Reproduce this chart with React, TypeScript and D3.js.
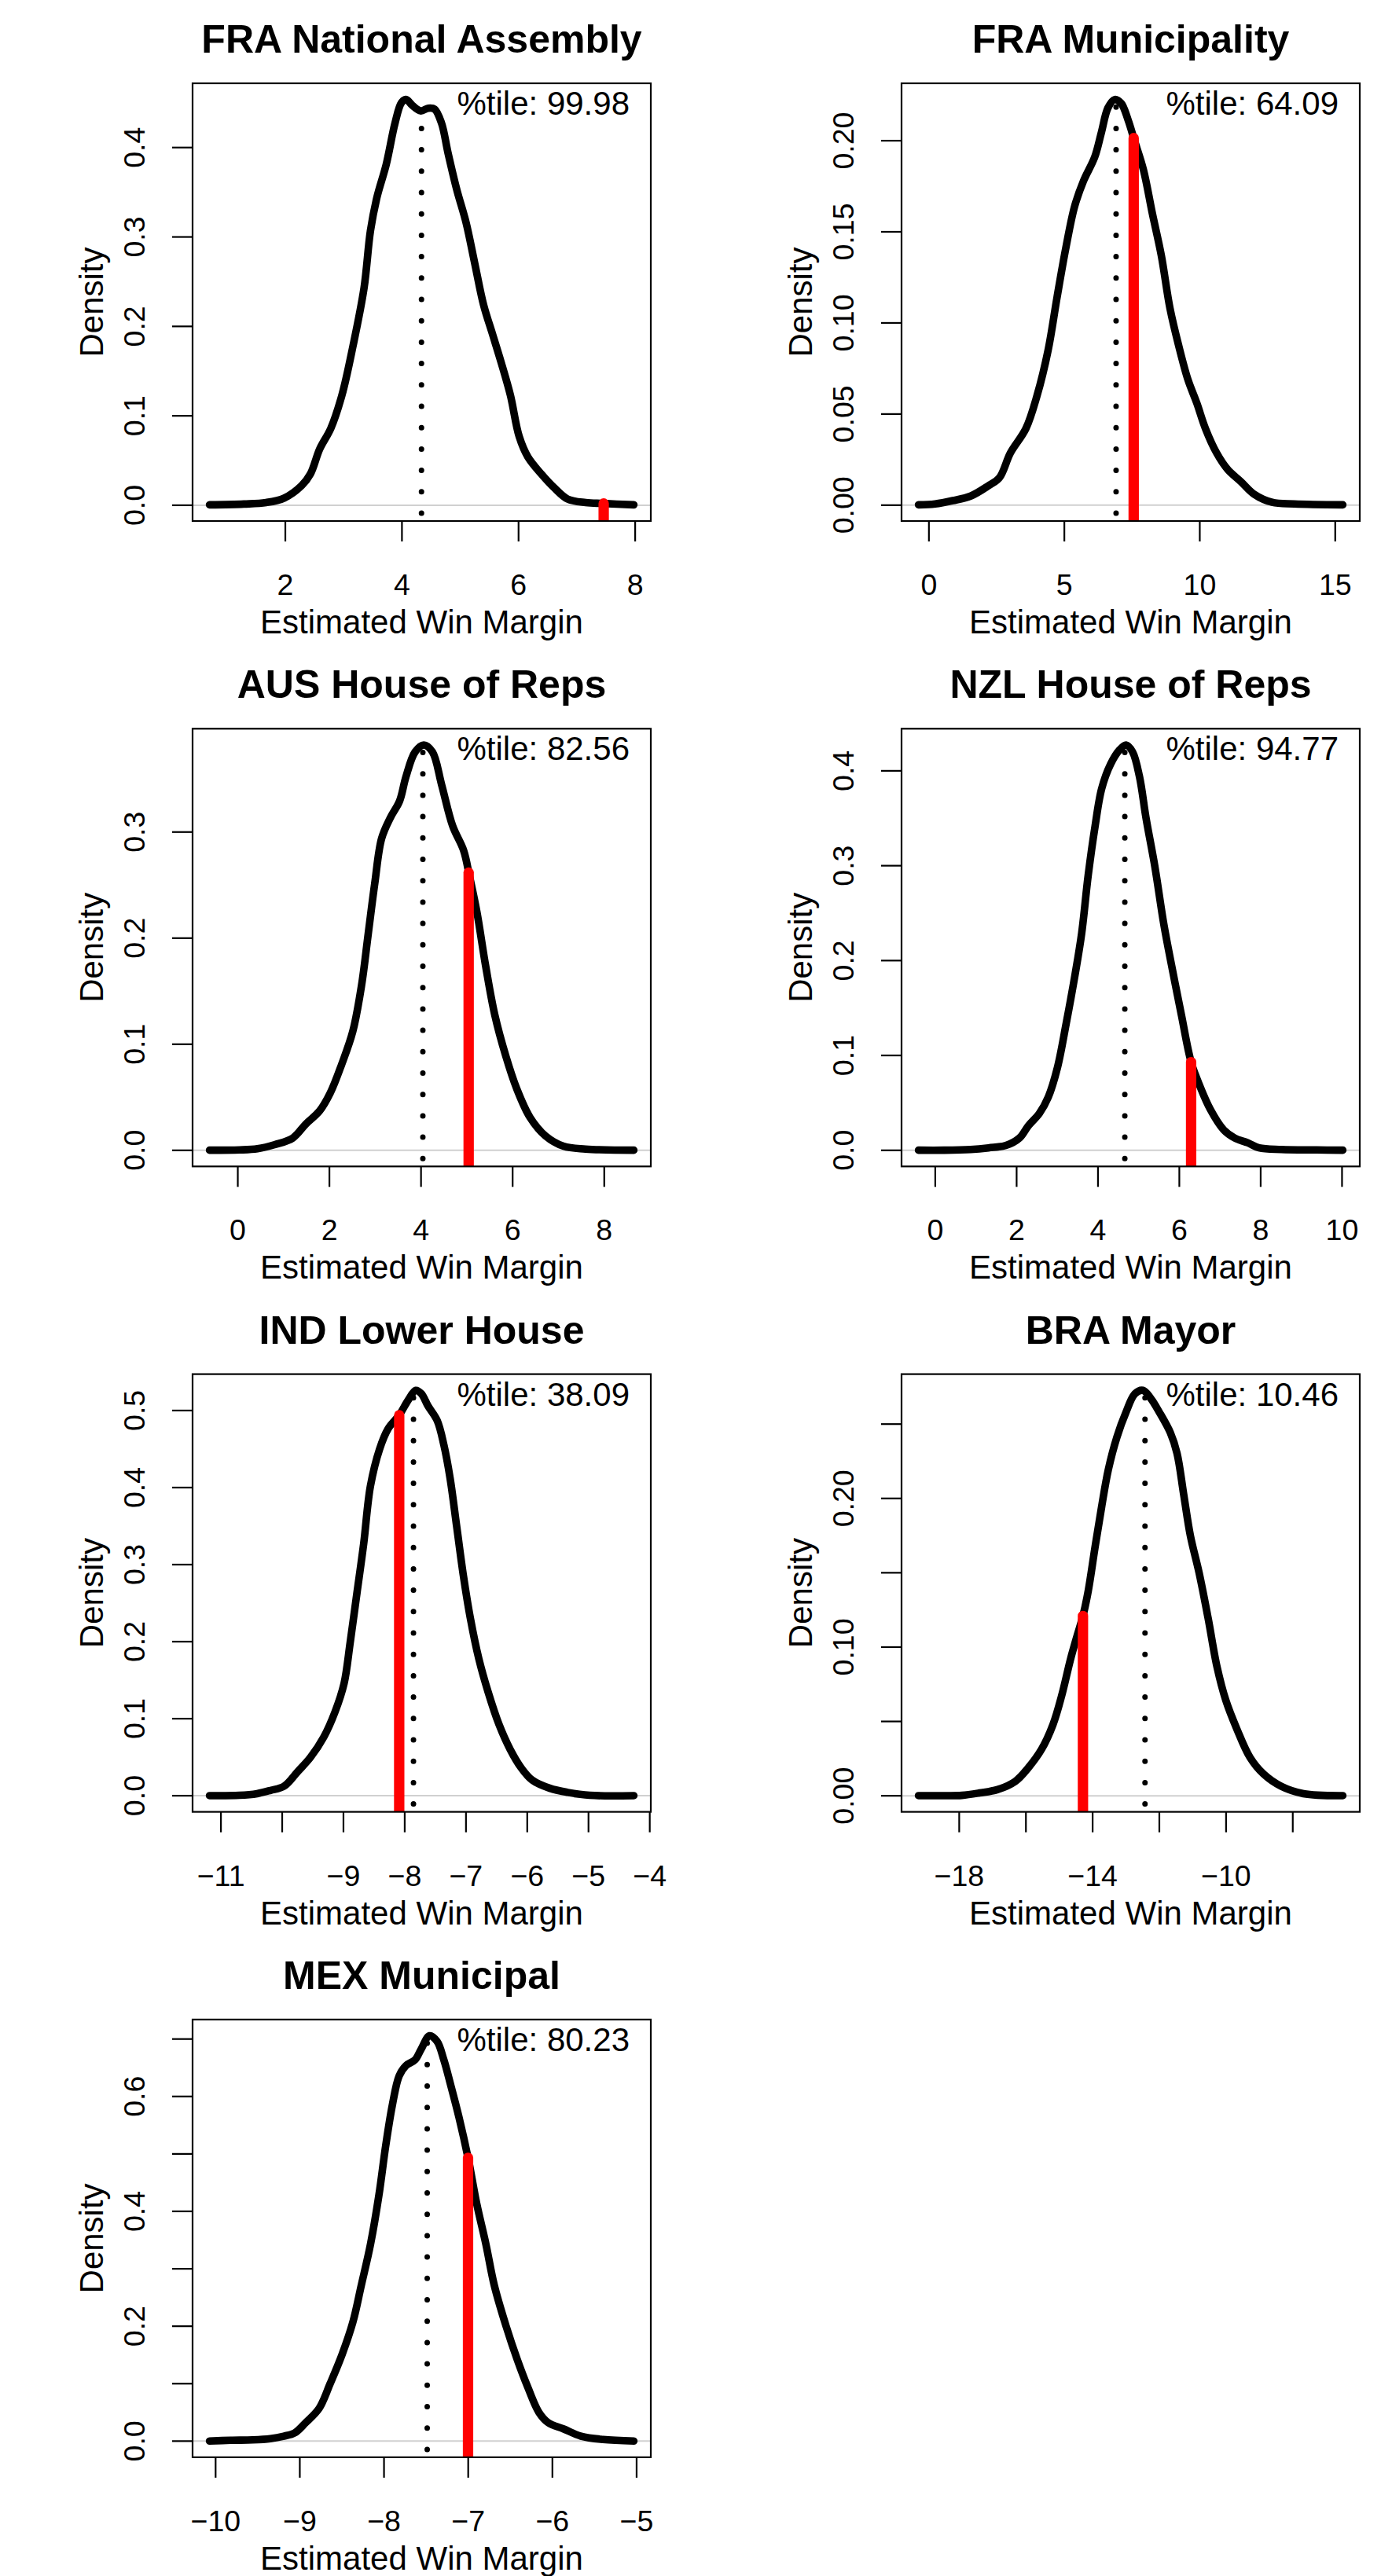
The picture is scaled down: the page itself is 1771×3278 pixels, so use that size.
import React from "react";
import * as d3 from "d3";

// ---------- DATA ----------
const panelTitles = [
  "FRA National Assembly",
  "FRA Municipality",
  "AUS House of Reps",
  "NZL House of Reps",
  "IND Lower House",
  "BRA Mayor",
  "MEX Municipal",
];

const percentileLabels = ["99.98", "64.09", "82.56", "94.77", "38.09", "10.46", "80.23"];

// dotted line (median of estimated margins)
const medianMargins = [4.335, 6.91, 4.04, 4.66, -7.857, -12.43, -7.487];
// red line (actual margin)
const actualMargins = [7.46, 7.56, 5.04, 6.29, -8.09, -14.29, -7.002];

const fraNationalDensity: [number, number][] = [
  [0.70, 0.0005], [1.29, 0.0014], [1.67, 0.003], [1.98, 0.008], [2.28, 0.022], [2.43, 0.035],
  [2.59, 0.063], [2.78, 0.086], [2.97, 0.123], [3.16, 0.178], [3.35, 0.243], [3.46, 0.307],
  [3.57, 0.344], [3.73, 0.381], [3.88, 0.427], [3.99, 0.450], [4.07, 0.4537], [4.18, 0.447],
  [4.32, 0.441], [4.45, 0.444], [4.56, 0.443], [4.68, 0.427], [4.79, 0.394], [4.94, 0.353],
  [5.10, 0.316], [5.25, 0.270], [5.40, 0.224], [5.55, 0.192], [5.70, 0.160], [5.86, 0.123],
  [6.01, 0.077], [6.16, 0.054], [6.39, 0.035], [6.62, 0.019], [6.84, 0.007], [7.15, 0.003],
  [7.45, 0.002], [7.977, 0.0005],
];

const fraMunicipalityDensity: [number, number][] = [
  [-0.384, 0.0002], [0.23, 0.0007], [0.88, 0.0025], [1.54, 0.005], [2.19, 0.0106], [2.60, 0.015],
  [3.01, 0.0287], [3.58, 0.042], [3.99, 0.060], [4.40, 0.085], [4.73, 0.114], [5.06, 0.1415],
  [5.38, 0.164], [5.71, 0.178], [6.12, 0.191], [6.37, 0.2047], [6.61, 0.218], [6.86, 0.2226],
  [7.10, 0.2205], [7.35, 0.2115], [7.59, 0.200], [7.92, 0.184], [8.25, 0.160], [8.58, 0.137],
  [8.90, 0.108], [9.23, 0.087], [9.56, 0.069], [9.89, 0.056], [10.21, 0.042], [10.62, 0.0287],
  [11.03, 0.0196], [11.52, 0.0129], [12.01, 0.006], [12.67, 0.0016], [13.49, 0.0007], [15.28, 0.0002],
];

const ausHouseDensity: [number, number][] = [
  [-0.617, 0.0001], [0.04, 0.0004], [0.43, 0.0015], [0.81, 0.0054], [1.20, 0.0116], [1.49, 0.025],
  [1.78, 0.0368], [2.02, 0.0542], [2.27, 0.0813], [2.51, 0.112], [2.70, 0.155], [2.85, 0.205],
  [2.99, 0.2516], [3.14, 0.294], [3.33, 0.3135], [3.53, 0.329], [3.67, 0.352], [3.87, 0.3755],
  [4.06, 0.3821], [4.25, 0.3755], [4.45, 0.3445], [4.69, 0.3058], [4.93, 0.2826], [5.06, 0.258],
  [5.22, 0.2245], [5.41, 0.174], [5.61, 0.1277], [5.85, 0.089], [6.09, 0.058], [6.38, 0.031],
  [6.72, 0.0135], [7.11, 0.0039], [7.59, 0.0012], [8.646, 0.0001],
];

const nzlHouseDensity: [number, number][] = [
  [-0.412, 0.0001], [0.22, 0.0001], [0.87, 0.0009], [1.31, 0.0026], [1.74, 0.0052], [2.07, 0.013],
  [2.29, 0.026], [2.56, 0.039], [2.78, 0.0563], [3.00, 0.0866], [3.22, 0.134], [3.44, 0.186],
  [3.60, 0.229], [3.76, 0.29], [3.93, 0.342], [4.09, 0.381], [4.31, 0.407], [4.53, 0.422],
  [4.69, 0.4273], [4.85, 0.42], [5.02, 0.394], [5.18, 0.3506], [5.40, 0.2987], [5.62, 0.238],
  [5.83, 0.1905], [6.05, 0.1429], [6.29, 0.093], [6.49, 0.0693], [6.76, 0.0433], [7.09, 0.0216],
  [7.36, 0.013], [7.69, 0.0078], [7.96, 0.0026], [8.51, 0.0009], [9.38, 0.0004], [10.019, 0.0001],
];

const indLowerDensity: [number, number][] = [
  [-11.186, 0.0001], [-10.70, 0.0005], [-10.41, 0.0027], [-10.19, 0.0069], [-9.97, 0.0123],
  [-9.75, 0.031], [-9.54, 0.0496], [-9.32, 0.0763], [-9.14, 0.1083], [-8.99, 0.1457],
  [-8.89, 0.199], [-8.78, 0.263], [-8.67, 0.327], [-8.56, 0.4018], [-8.41, 0.45],
  [-8.27, 0.4765], [-8.09, 0.494], [-7.94, 0.514], [-7.82, 0.5262], [-7.73, 0.522],
  [-7.62, 0.506], [-7.47, 0.487], [-7.36, 0.455], [-7.26, 0.4125], [-7.15, 0.3485],
  [-7.04, 0.2844], [-6.93, 0.231], [-6.79, 0.1777], [-6.64, 0.135], [-6.46, 0.0923],
  [-6.28, 0.0603], [-6.10, 0.0363], [-5.92, 0.0203], [-5.63, 0.0096], [-5.34, 0.0043],
  [-4.98, 0.0005], [-4.26, 0.0001],
];

const braMayorDensity: [number, number][] = [
  [-19.22, 0.0001], [-18.45, 0.0001], [-17.92, 0.0003], [-17.39, 0.0019], [-16.86, 0.0041],
  [-16.32, 0.0097], [-15.93, 0.0188], [-15.53, 0.0313], [-15.19, 0.0478], [-14.93, 0.0672],
  [-14.66, 0.0921], [-14.46, 0.108], [-14.29, 0.121], [-14.13, 0.138], [-13.93, 0.1668],
  [-13.73, 0.1944], [-13.53, 0.2193], [-13.27, 0.2414], [-13.00, 0.258], [-12.73, 0.2705],
  [-12.49, 0.2727], [-12.27, 0.2677], [-12.00, 0.258], [-11.67, 0.2442], [-11.47, 0.2304],
  [-11.27, 0.2027], [-11.07, 0.175], [-10.81, 0.1502], [-10.54, 0.1197], [-10.27, 0.0866],
  [-10.01, 0.0644], [-9.68, 0.0451], [-9.28, 0.0257], [-8.88, 0.0147], [-8.35, 0.0064],
  [-7.68, 0.0014], [-6.50, 0.0001],
];

const mexMunicipalDensity: [number, number][] = [
  [-10.072, 0.0001], [-9.82, 0.0014], [-9.56, 0.0021], [-9.35, 0.0043], [-9.19, 0.0086],
  [-9.06, 0.0143], [-8.93, 0.0321], [-8.77, 0.0571], [-8.64, 0.1], [-8.50, 0.15],
  [-8.37, 0.207], [-8.27, 0.271], [-8.16, 0.343], [-8.06, 0.4286], [-7.98, 0.514],
  [-7.90, 0.5857], [-7.82, 0.6357], [-7.74, 0.6536], [-7.63, 0.664], [-7.56, 0.682],
  [-7.46, 0.7057], [-7.37, 0.696], [-7.29, 0.664], [-7.21, 0.621], [-7.11, 0.564],
  [-7.00, 0.492], [-6.90, 0.414], [-6.79, 0.343], [-6.69, 0.271], [-6.55, 0.2],
  [-6.42, 0.1429], [-6.29, 0.0929], [-6.16, 0.05], [-6.05, 0.0321], [-5.87, 0.0214],
  [-5.66, 0.0086], [-5.40, 0.0029], [-5.033, 0.0001],
];

const densities = [
  fraNationalDensity,
  fraMunicipalityDensity,
  ausHouseDensity,
  nzlHouseDensity,
  indLowerDensity,
  braMayorDensity,
  mexMunicipalDensity,
];

const xTicks = [
  [2, 4, 6, 8],
  [0, 5, 10, 15],
  [0, 2, 4, 6, 8],
  [0, 2, 4, 6, 8, 10],
  [-11, -10, -9, -8, -7, -6, -5, -4],
  [-18, -16, -14, -12, -10, -8],
  [-10, -9, -8, -7, -6, -5],
];
const xTickLabels = [
  ["2", "4", "6", "8"],
  ["0", "5", "10", "15"],
  ["0", "2", "4", "6", "8"],
  ["0", "2", "4", "6", "8", "10"],
  ["\u221211", "", "\u22129", "\u22128", "\u22127", "\u22126", "\u22125", "\u22124"],
  ["\u221218", "", "\u221214", "", "\u221210", ""],
  ["\u221210", "\u22129", "\u22128", "\u22127", "\u22126", "\u22125"],
];
const yTicks = [
  [0, 0.1, 0.2, 0.3, 0.4],
  [0, 0.05, 0.1, 0.15, 0.2],
  [0, 0.1, 0.2, 0.3],
  [0, 0.1, 0.2, 0.3, 0.4],
  [0, 0.1, 0.2, 0.3, 0.4, 0.5],
  [0, 0.05, 0.1, 0.15, 0.2, 0.25],
  [0, 0.1, 0.2, 0.3, 0.4, 0.5, 0.6, 0.7],
];
const yTickLabels = [
  ["0.0", "0.1", "0.2", "0.3", "0.4"],
  ["0.00", "0.05", "0.10", "0.15", "0.20"],
  ["0.0", "0.1", "0.2", "0.3"],
  ["0.0", "0.1", "0.2", "0.3", "0.4"],
  ["0.0", "0.1", "0.2", "0.3", "0.4", "0.5"],
  ["0.00", "", "0.10", "", "0.20", ""],
  ["0.0", "", "0.2", "", "0.4", "", "0.6", ""],
];

const xAxisTitle = "Estimated Win Margin";
const yAxisTitle = "Density";

// ---------- LAYOUT ----------
const W = 1771;
const H = 3278;
const colLeft = [245, 1147];
const rowTop0 = 106;
const rowStep = 821.3;
const plotW = 583;
const plotH = 557;
const FONT = "'Liberation Sans', Arial, Helvetica, sans-serif";

function Panel({ i }: { i: number }) {
  const pts = densities[i];
  const left = colLeft[i % 2];
  const top = rowTop0 + rowStep * Math.floor(i / 2);
  const right = left + plotW;
  const bottom = top + plotH;

  const [x0, x1] = d3.extent(pts, (p) => p[0]) as [number, number];
  const [y0, y1] = d3.extent(pts, (p) => p[1]) as [number, number];
  const rx = x1 - x0;
  const ry = y1 - y0;
  const x = d3.scaleLinear().domain([x0 - 0.04 * rx, x1 + 0.04 * rx]).range([left, right]);
  const y = d3.scaleLinear().domain([y0 - 0.04 * ry, y1 + 0.04 * ry]).range([bottom, top]);

  const bis = d3.bisector((p: [number, number]) => p[0]).left;
  const densAt = (v: number) => {
    const k = Math.max(1, Math.min(pts.length - 1, bis(pts, v)));
    const a = pts[k - 1];
    const b = pts[k];
    const t = (v - a[0]) / (b[0] - a[0]);
    return a[1] + t * (b[1] - a[1]);
  };

  const line = d3
    .line<[number, number]>()
    .x((p) => x(p[0]))
    .y((p) => y(p[1]))
    .curve(d3.curveCatmullRom.alpha(0.5));

  const clipId = `clip-${i}`;
  const med = medianMargins[i];
  const act = actualMargins[i];
  const yMin = y.domain()[0];

  return (
    <g>
      <defs>
        <clipPath id={clipId}>
          <rect x={left} y={top} width={plotW} height={plotH} />
        </clipPath>
      </defs>
      <text
        x={(left + right) / 2}
        y={top - 39}
        textAnchor="middle"
        fontFamily={FONT}
        fontWeight="bold"
        fontSize={50}
      >
        {panelTitles[i]}
      </text>
      <g clipPath={`url(#${clipId})`}>
        <line x1={left} x2={right} y1={y(0)} y2={y(0)} stroke="#d0d0d0" strokeWidth={2} />
        <path
          d={line(pts) || ""}
          fill="none"
          stroke="#000"
          strokeWidth={9.6}
          strokeLinejoin="round"
          strokeLinecap="round"
        />
        <line
          x1={x(med)}
          x2={x(med)}
          y1={y(yMin)}
          y2={y(densAt(med))}
          stroke="#000"
          strokeWidth={7}
          strokeLinecap="round"
          strokeDasharray="0.01 27.19"
          strokeDashoffset={17.2}
        />
        <line
          x1={x(act)}
          x2={x(act)}
          y1={y(yMin) + 10}
          y2={y(densAt(act))}
          stroke="#ff0000"
          strokeWidth={13.2}
          strokeLinecap="round"
        />
      </g>
      <rect x={left} y={top} width={plotW} height={plotH} fill="none" stroke="#000" strokeWidth={2.2} />
      {xTicks[i].map((t, k) => (
        <g key={`xt${k}`}>
          <line x1={x(t)} x2={x(t)} y1={bottom} y2={bottom + 26} stroke="#000" strokeWidth={2.2} />
          <text
            x={x(t)}
            y={bottom + 94}
            textAnchor="middle"
            fontFamily={FONT}
            fontSize={37.5}
          >
            {xTickLabels[i][k]}
          </text>
        </g>
      ))}
      {yTicks[i].map((t, k) => (
        <g key={`yt${k}`}>
          <line x1={left - 26} x2={left} y1={y(t)} y2={y(t)} stroke="#000" strokeWidth={2.2} />
          <text
            transform={`translate(${left - 61.5},${y(t)}) rotate(-90)`}
            textAnchor="middle"
            fontFamily={FONT}
            fontSize={37.5}
          >
            {yTickLabels[i][k]}
          </text>
        </g>
      ))}
      <text
        x={(left + right) / 2}
        y={bottom + 143}
        textAnchor="middle"
        fontFamily={FONT}
        fontSize={42}
      >
        {xAxisTitle}
      </text>
      <text
        transform={`translate(${left - 114},${(top + bottom) / 2}) rotate(-90)`}
        textAnchor="middle"
        fontFamily={FONT}
        fontSize={42}
      >
        {yAxisTitle}
      </text>
      <text
        x={right - 27}
        y={top + 40}
        textAnchor="end"
        fontFamily={FONT}
        fontSize={42}
      >
        {`%tile: ${percentileLabels[i]}`}
      </text>
    </g>
  );
}

export default function App() {
  return (
    <svg
      width={W}
      height={H}
      viewBox={`0 0 ${W} ${H}`}
      style={{ position: "absolute", left: 0, top: 0, background: "#fff" }}
    >
      <rect x={0} y={0} width={W} height={H} fill="#fff" />
      {panelTitles.map((_, i) => (
        <Panel key={i} i={i} />
      ))}
    </svg>
  );
}
